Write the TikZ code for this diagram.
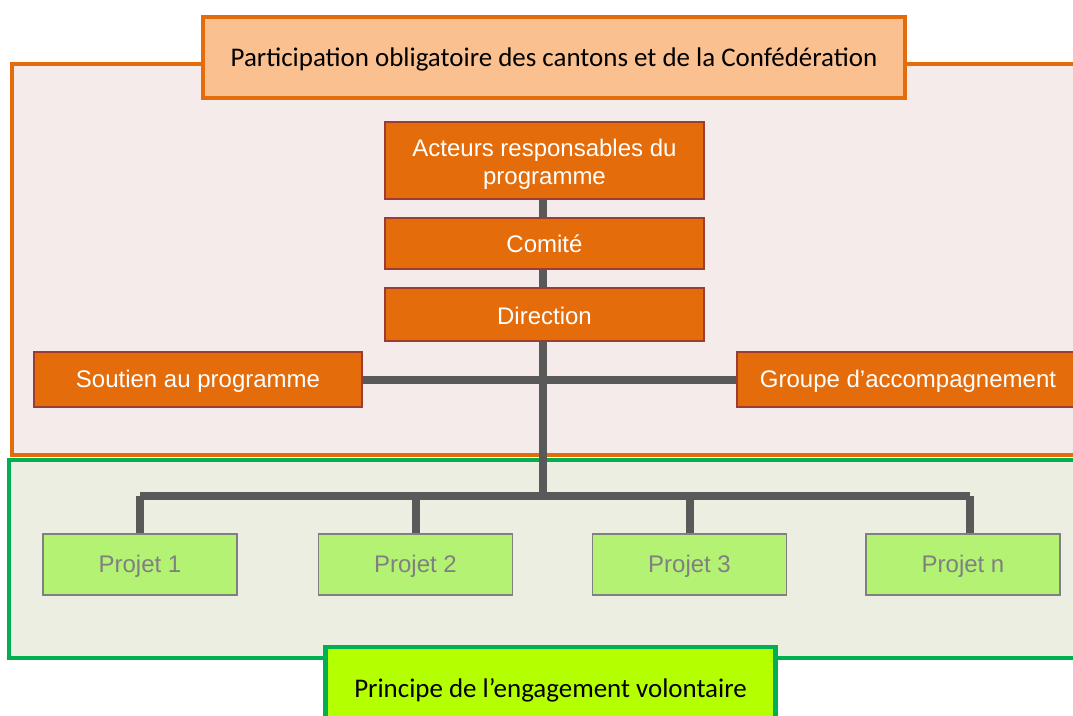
\documentclass[tikz,border=0pt]{standalone}
\usepackage{fontspec}
\setmainfont{Liberation Sans}
\newfontfamily\calibri{Carlito}
\definecolor{frameorange}{HTML}{E46C0A}
\definecolor{framepink}{HTML}{F6EBEB}
\definecolor{peach}{HTML}{FAC090}
\definecolor{framegreen}{HTML}{00B050}
\definecolor{greenbg}{HTML}{EBEEE0}
\definecolor{projfill}{HTML}{B4F274}
\definecolor{projgray}{HTML}{808080}
\definecolor{limefill}{HTML}{B4FF00}
\definecolor{boxborder}{HTML}{9C3C32}
\definecolor{linegray}{HTML}{595959}
\pgfdeclarelayer{bglayer}
\pgfdeclarelayer{linelayer}
\pgfsetlayers{bglayer,linelayer,main}
\begin{document}
\begin{tikzpicture}[x=0.75pt,y=-0.75pt,
  orgbox/.style={draw=boxborder,line width=1.2pt,fill=frameorange,text=white,
    font=\fontsize{18}{21}\selectfont,align=center,inner sep=0pt},
  projbox/.style={draw=projgray,line width=1.4pt,fill=projfill,text=projgray,
    font=\fontsize{18}{21}\selectfont,minimum width=194*0.75pt,minimum height=61*0.75pt,inner sep=0pt},
  conn/.style={draw=linegray,line width=6pt,line join=miter},
  labelbox/.style={line width=3.2pt,font=\calibri\fontsize{20.2}{24}\selectfont,inner sep=0pt}]
\useasboundingbox (0,0) rectangle (1073,715);
\clip (0,0) rectangle (1073,715);
\begin{pgfonlayer}{bglayer}
\fill[white] (0,0) rectangle (1073,715);
\draw[frameorange,fill=framepink,line width=3.2pt] (12,64) rectangle (1090,455);
\draw[framegreen,fill=greenbg,line width=3.2pt] (9,460) rectangle (1090,658);
\end{pgfonlayer}
% title boxes
\node[labelbox,draw=frameorange,fill=peach,minimum width=702*0.75pt,minimum height=81*0.75pt] (top) at (554,57.5) {\raisebox{-1.5pt}[\height][\depth]{Participation obligatoire des cantons et de la Confédération}};
\node[labelbox,draw=framegreen,fill=limefill,minimum width=450*0.75pt,minimum height=90*0.75pt] (bottom) at (550.5,692) {\raisebox{6pt}{Principe de l’engagement volontaire}};
% nodes
\node[orgbox,minimum width=319*0.75pt,minimum height=77*0.75pt] (acteurs) at (544.5,160.5) {\raisebox{-3pt}[\height][\depth]{\begin{tabular}{@{}c@{}}Acteurs responsables du\\programme\end{tabular}}};
\node[orgbox,minimum width=319*0.75pt,minimum height=51*0.75pt] (comite) at (544.5,243.5) {Comité};
\node[orgbox,minimum width=319*0.75pt,minimum height=53*0.75pt] (direction) at (544.5,314.5) {\raisebox{-1pt}[\height][\depth]{Direction}};
\node[orgbox,minimum width=328*0.75pt,minimum height=55*0.75pt] (soutien) at (198,379.5) {\raisebox{-1pt}[\height][\depth]{Soutien au programme}};
\node[orgbox,minimum width=342*0.75pt,minimum height=55*0.75pt] (groupe) at (908,379.5) {\raisebox{-1pt}[\height][\depth]{Groupe d’accompagnement}};
\node[projbox] (p1) at (140,564.5) {\raisebox{-1pt}[\height][\depth]{Projet 1}};
\node[projbox] (p2) at (415.5,564.5) {\raisebox{-1pt}[\height][\depth]{Projet 2}};
\node[projbox] (p3) at (689.5,564.5) {\raisebox{-1pt}[\height][\depth]{Projet 3}};
\node[projbox] (pn) at (963,564.5) {\raisebox{-1pt}[\height][\depth]{Projet n}};
\coordinate (bus) at (543,496);
\coordinate (busl) at (140,496);
\coordinate (busr) at (970,496);
% connectors
\begin{pgfonlayer}{linelayer}
\draw[conn] (acteurs.south -| bus) -- (comite.north -| bus);
\draw[conn] (comite.south -| bus) -- (direction.north -| bus);
\draw[conn] (soutien.east) -- (groupe.west);
\draw[conn] (direction.south -| bus) -- (bus);
\draw[conn] (busl) -- (busr);
\draw[conn] (busl) -- (p1.north -| busl);
\draw[conn] (p2.north |- bus) -- (p2.north);
\draw[conn] (p3.north |- bus) -- (p3.north);
\draw[conn] (busr) -- (pn.north -| busr);
\end{pgfonlayer}
\end{tikzpicture}
\end{document}
